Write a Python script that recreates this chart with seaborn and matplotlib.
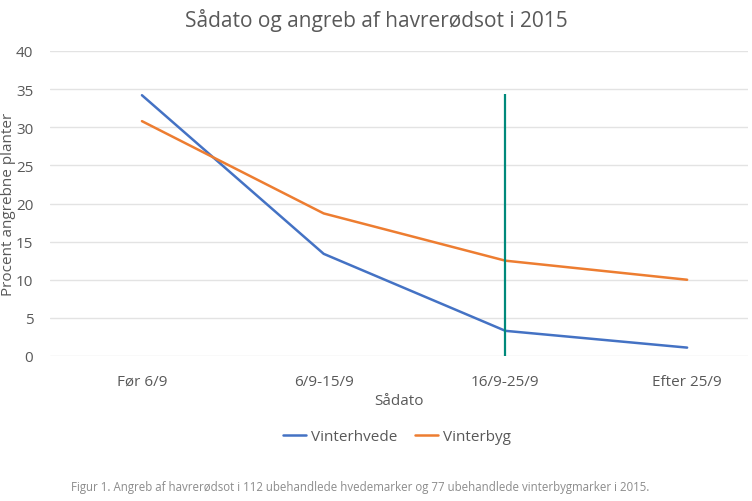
import matplotlib
matplotlib.use("Agg")
import matplotlib.pyplot as plt
import seaborn as sns
import pandas as pd

# data
kategorier = ["Før 6/9", "6/9-15/9", "16/9-25/9", "Efter 25/9"]
vinterhvede = [34.2, 13.4, 3.3, 1.1]
vinterbyg = [30.8, 18.7, 12.5, 10.0]
markering_kategori = "16/9-25/9"
markering_top = 34.4

df = pd.DataFrame({
    "Sådato": kategorier * 2,
    "Procent": vinterhvede + vinterbyg,
    "Afgrøde": ["Vinterhvede"] * 4 + ["Vinterbyg"] * 4,
})

sns.set_style("white")
plt.rcParams["font.family"] = ["Open Sans", "DejaVu Sans"]

tekst = "#595959"
fig = plt.figure(figsize=(7.52, 5.02), dpi=100)
ax = fig.add_axes([50 / 752, 145 / 502, 698 / 752, 305 / 502])

sns.lineplot(data=df, x="Sådato", y="Procent", hue="Afgrøde",
             palette={"Vinterhvede": "#4472C4", "Vinterbyg": "#ED7D31"},
             linewidth=1.8, sort=False, ax=ax, legend=True)

# lodret markering
xi = kategorier.index(markering_kategori)
ax.vlines(xi, 0, markering_top, color="#00897B", linewidth=1.6, zorder=3)

ax.set_ylim(0, 40)
ax.set_xlim(-0.506, 3.335)
ax.set_yticks(range(0, 41, 5))
ax.grid(axis="y", color="#E3E3E3", linewidth=1)
ax.set_axisbelow(True)
for s in ax.spines.values():
    s.set_visible(False)
ax.tick_params(axis="both", length=0, labelsize=11, colors=tekst)
ax.tick_params(axis="x", pad=13)
ax.tick_params(axis="y", pad=12)

ax.set_xlabel("Sådato", fontsize=11, color=tekst, labelpad=3)
ax.set_ylabel("Procent angrebne planter", fontsize=11, color=tekst)
ax.yaxis.set_label_coords(-0.049, 0.5)

fig.text(0.5, 1 - 20 / 502, "Sådato og angreb af havrerødsot i 2015",
         ha="center", va="center", fontsize=15, color=tekst)

ax.legend(loc="upper center", bbox_to_anchor=(0.497, -0.195), ncol=2,
          frameon=False, fontsize=11, handlelength=1.5, handletextpad=0.3,
          columnspacing=1.2, labelcolor=tekst)

fig.text(71 / 752, 1 - 488 / 502,
         "Figur 1. Angreb af havrerødsot i 112 ubehandlede hvedemarker og 77 ubehandlede vinterbygmarker i 2015.",
         ha="left", va="center", fontsize=8.3, color="#8C8C8C",
         family=["Liberation Sans Narrow", "Open Sans", "DejaVu Sans"])

fig.savefig("out.png", dpi=100)
